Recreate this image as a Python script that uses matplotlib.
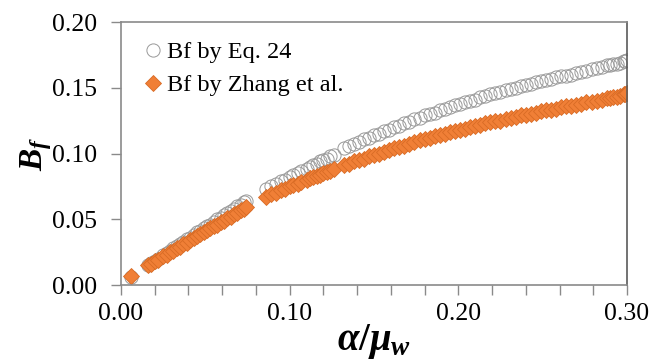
import matplotlib
matplotlib.use("Agg")
import matplotlib.pyplot as plt
from matplotlib.ticker import MultipleLocator

# alpha / mu_w values shared by both series
ratio = [
    0.006, 0.016, 0.018, 0.020, 0.022, 0.025, 0.027, 0.029, 0.031, 0.033,
    0.035, 0.037, 0.039, 0.041, 0.043, 0.045, 0.047, 0.049, 0.051, 0.053,
    0.055, 0.057, 0.059, 0.061, 0.063, 0.065, 0.067, 0.069, 0.071, 0.073,
    0.074,
    0.086, 0.089, 0.092, 0.095, 0.097, 0.100, 0.102, 0.105, 0.107, 0.110,
    0.112, 0.114, 0.116, 0.118, 0.120, 0.122, 0.124, 0.126,
    0.132, 0.135, 0.138, 0.141, 0.144, 0.147, 0.150, 0.153, 0.156, 0.159,
    0.162, 0.165, 0.168, 0.171, 0.174, 0.177, 0.180, 0.183, 0.186, 0.189,
    0.192, 0.195, 0.198, 0.201, 0.204, 0.207, 0.210, 0.213, 0.216, 0.219,
    0.222, 0.225, 0.228, 0.231, 0.234, 0.237, 0.240, 0.243, 0.246, 0.249,
    0.252, 0.255, 0.258, 0.261, 0.264, 0.267, 0.270, 0.273, 0.276, 0.279,
    0.282, 0.285, 0.288, 0.290, 0.292, 0.294, 0.296, 0.298, 0.299, 0.300,
]

# Bf from Eq. 24
bf_eq24 = [
    0.006, 0.015, 0.017, 0.018, 0.020, 0.023, 0.024, 0.026, 0.028, 0.030,
    0.031, 0.033, 0.035, 0.036, 0.038, 0.040, 0.041, 0.043, 0.045, 0.046,
    0.048, 0.050, 0.051, 0.053, 0.055, 0.056, 0.058, 0.060, 0.061, 0.063,
    0.064,
    0.073, 0.075, 0.077, 0.079, 0.080, 0.082, 0.084, 0.085, 0.087, 0.088,
    0.090, 0.091, 0.092, 0.094, 0.095, 0.096, 0.098, 0.099,
    0.104, 0.106, 0.107, 0.109, 0.111, 0.112, 0.114, 0.115, 0.117, 0.118,
    0.120, 0.121, 0.123, 0.124, 0.126, 0.127, 0.129, 0.130, 0.131, 0.133,
    0.134, 0.135, 0.137, 0.138, 0.139, 0.140, 0.141, 0.143, 0.144, 0.145,
    0.146, 0.147, 0.148, 0.149, 0.150, 0.151, 0.152, 0.153, 0.154, 0.155,
    0.156, 0.157, 0.158, 0.159, 0.159, 0.160, 0.161, 0.162, 0.163, 0.164,
    0.165, 0.166, 0.167, 0.167, 0.168, 0.168, 0.169, 0.170, 0.170, 0.171,
]

# Bf from Zhang et al.
bf_zhang = [
    0.007, 0.015, 0.016, 0.018, 0.019, 0.022, 0.023, 0.025, 0.026, 0.028,
    0.029, 0.031, 0.032, 0.034, 0.036, 0.037, 0.039, 0.040, 0.042, 0.043,
    0.045, 0.046, 0.048, 0.049, 0.051, 0.052, 0.054, 0.055, 0.057, 0.058,
    0.059,
    0.067, 0.069, 0.070, 0.072, 0.073, 0.075, 0.076, 0.077, 0.078, 0.080,
    0.081, 0.082, 0.083, 0.084, 0.085, 0.086, 0.087, 0.088,
    0.091, 0.092, 0.094, 0.095, 0.096, 0.098, 0.099, 0.100, 0.101, 0.103,
    0.104, 0.105, 0.106, 0.107, 0.109, 0.110, 0.111, 0.112, 0.113, 0.114,
    0.115, 0.116, 0.117, 0.118, 0.119, 0.120, 0.121, 0.122, 0.123, 0.124,
    0.125, 0.125, 0.126, 0.127, 0.128, 0.129, 0.129, 0.130, 0.131, 0.132,
    0.133, 0.133, 0.134, 0.135, 0.136, 0.136, 0.137, 0.138, 0.139, 0.139,
    0.140, 0.141, 0.142, 0.142, 0.143, 0.143, 0.144, 0.145, 0.145, 0.146,
]

plt.rcParams["font.family"] = "Liberation Serif"
plt.rcParams["mathtext.fontset"] = "custom"
plt.rcParams["mathtext.rm"] = "Liberation Serif:bold"
plt.rcParams["mathtext.it"] = "Liberation Serif:italic:bold"
plt.rcParams["mathtext.bf"] = "Liberation Serif:bold"

spine_color = "#8a8a8a"

fig = plt.figure(figsize=(6.52, 3.62), dpi=100)
ax = fig.add_axes([0.1856, 0.2127, 0.776, 0.7265])

ax.plot(ratio, bf_eq24, linestyle="none", marker="o", markersize=9.5,
        markerfacecolor="none", markeredgecolor="#999999",
        markeredgewidth=0.7, label="Bf by Eq. 24")
ax.plot(ratio, bf_zhang, linestyle="none", marker="D", markersize=8,
        markerfacecolor="#f07f36", markeredgecolor="#d86b25",
        markeredgewidth=0.6, label="Bf by Zhang et al.")

ax.set_xlim(0, 0.30)
ax.set_ylim(0, 0.20)
ax.xaxis.set_major_locator(MultipleLocator(0.10))
ax.xaxis.set_minor_locator(MultipleLocator(0.02))
ax.yaxis.set_major_locator(MultipleLocator(0.05))
ax.xaxis.set_major_formatter(lambda v, p: "%.2f" % v)
ax.yaxis.set_major_formatter(lambda v, p: "%.2f" % v)

for side in ["left", "bottom", "top"]:
    ax.spines[side].set_color(spine_color)
    ax.spines[side].set_linewidth(1.2)
ax.spines["right"].set_color("#5a5a5a")
ax.spines["right"].set_linewidth(1.2)

ax.tick_params(axis="both", which="major", direction="out", length=7,
               width=1.0, color=spine_color, labelsize=18.5)
ax.tick_params(axis="y", which="major", pad=10)
ax.tick_params(axis="x", which="major", pad=6)
ax.tick_params(axis="x", which="minor", direction="out", length=7,
               width=1.0, color=spine_color)

ax.set_xlabel(r"$\alpha/\mu_w$", fontsize=28, labelpad=-2)
ax.set_ylabel(r"$B_f$", fontsize=24, labelpad=-1)

ax.legend(loc="upper left", frameon=False, fontsize=17.5, handletextpad=0.1,
          handlelength=1.0, borderaxespad=0.4, labelspacing=0.45,
          bbox_to_anchor=(0.0, 1.0))

fig.savefig("out.png", dpi=100)
